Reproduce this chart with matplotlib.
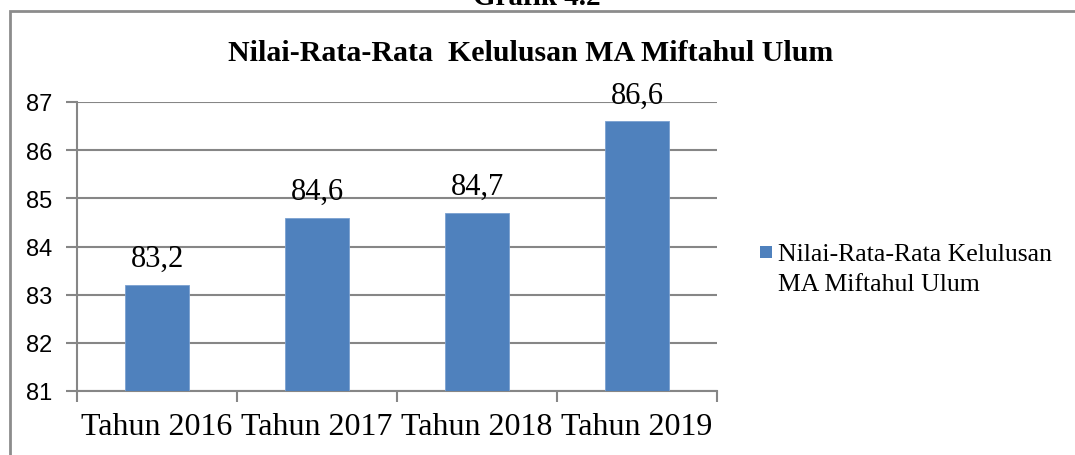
import matplotlib
matplotlib.use("Agg")
import matplotlib.pyplot as plt
from matplotlib.patches import Rectangle

# -----------------------------
# Data
# -----------------------------
years = ["Tahun 2016", "Tahun 2017", "Tahun 2018", "Tahun 2019"]
nilai = [83.2, 84.6, 84.7, 86.6]
value_labels = ["83,2", "84,6", "84,7", "86,6"]
y_ticks = [81, 82, 83, 84, 85, 86, 87]

title = "Nilai-Rata-Rata  Kelulusan MA Miftahul Ulum"
series_name = ["Nilai-Rata-Rata Kelulusan", "MA Miftahul Ulum"]

SERIF = ["Liberation Serif", "DejaVu Serif"]
SANS = ["Liberation Sans", "DejaVu Sans"]
BAR = "#4F81BD"
GRID = "#868686"

W, H = 1075, 456
fig = plt.figure(figsize=(W / 100, H / 100), dpi=100)


def fx(px):
    return px / W


def fy(py):
    return 1 - py / H


# outer chart frame (right/bottom run off the page)
fig.patches.append(Rectangle((fx(10), fy(H + 20)), fx(W + 20), (H + 8) / H,
                             transform=fig.transFigure, fill=False,
                             edgecolor="#8c8c8c", linewidth=2))

# caption cut off at the top, as in the source page
fig.text(fx(537), fy(5), "Grafik 4.2", ha="center", va="baseline",
         family=SERIF, fontweight="bold", fontsize=21)

fig.text(fx(531), fy(61), title, ha="center", va="baseline",
         family=SERIF, fontweight="bold", fontsize=21.5)

ax = fig.add_axes([fx(77), fy(392), fx(640), 289 / H])
x = list(range(len(years)))
bars = ax.bar(x, nilai, width=0.4, color=BAR, edgecolor="#7aa0d0",
              linewidth=0.6, zorder=3)

for xi, v, lab in zip(x, nilai, value_labels):
    ax.annotate(lab, (xi, v), xytext=(0, 13.5), textcoords="offset points",
                ha="center", va="baseline", family=SERIF, fontsize=22)

ax.set_ylim(81, 87)
ax.set_xlim(-0.5, len(years) - 0.5)
ax.set_yticks(y_ticks)
ax.set_yticklabels([str(t) for t in y_ticks], family=SANS, fontsize=17)
ax.set_xticks(x)
ax.set_xticklabels(years, family=SERIF, fontsize=23)
ax.set_xticks([i - 0.5 for i in range(len(years) + 1)], minor=True)
ax.tick_params(axis="x", which="major", length=0, pad=15)
ax.tick_params(axis="x", which="minor", length=8, width=1.5, color=GRID)
ax.tick_params(axis="y", length=8, width=1.5, color=GRID, pad=10)

ax.grid(axis="y", color=GRID, linewidth=1.5, zorder=0)
ax.set_axisbelow(True)
for side in ("top", "right"):
    ax.spines[side].set_visible(False)
for side in ("left", "bottom"):
    ax.spines[side].set_color(GRID)
    ax.spines[side].set_linewidth(1.5)

# legend
fig.patches.append(Rectangle((fx(760), fy(259)), fx(12), 12 / H,
                             transform=fig.transFigure, facecolor=BAR,
                             edgecolor="none"))
fig.text(fx(778), fy(261), series_name[0], ha="left", va="baseline",
         family=SERIF, fontsize=18.5)
fig.text(fx(778), fy(291), series_name[1], ha="left", va="baseline",
         family=SERIF, fontsize=18.5)

fig.savefig("out.png", dpi=100, facecolor="white")
